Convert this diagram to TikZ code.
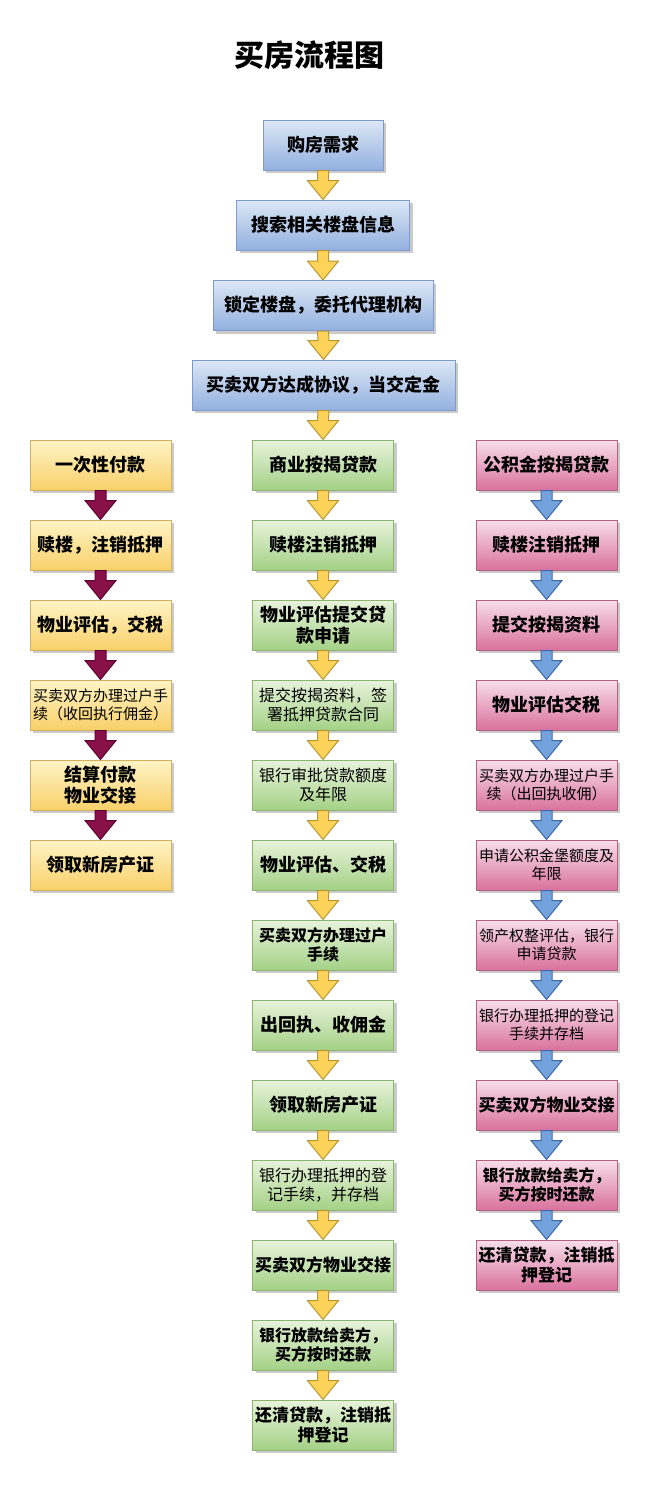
\documentclass[tikz,border=0pt]{standalone}
\usepackage{fontspec}
\setmainfont{Noto Sans CJK SC}
\usetikzlibrary{calc,shadows}
\definecolor{bTop}{HTML}{DDE7F6}
\definecolor{bBot}{HTML}{92B0DF}
\definecolor{bLine}{HTML}{7C9BC8}
\definecolor{yTop}{HTML}{FFF4C6}
\definecolor{yBot}{HTML}{F8D06A}
\definecolor{yLine}{HTML}{D3B05C}
\definecolor{gTop}{HTML}{E8F3DC}
\definecolor{gBot}{HTML}{A4D186}
\definecolor{gLine}{HTML}{8BB56E}
\definecolor{pTop}{HTML}{F8DEE9}
\definecolor{pBot}{HTML}{D9729E}
\definecolor{pLine}{HTML}{B4607F}
\definecolor{yaFill}{HTML}{FFD35A}
\definecolor{yaLine}{HTML}{B8962E}
\definecolor{baFill}{HTML}{74A2DC}
\definecolor{baLine}{HTML}{3F69A6}
\definecolor{maFill}{HTML}{8A1049}
\definecolor{maLine}{HTML}{5C0630}
\tikzset{
  box/.style={draw, line width=0.5pt, inner sep=0pt, minimum height=25pt, minimum width=70.5pt, align=center,
    font=\bfseries\fontsize{9}{10.5}\selectfont,
    drop shadow={shadow xshift=1.6pt, shadow yshift=-1.6pt, opacity=0.35, fill=black!60}},
  bluebox/.style={box, top color=bTop, bottom color=bBot, draw=bLine},
  yelbox/.style={box, top color=yTop, bottom color=yBot, draw=yLine},
  grnbox/.style={box, top color=gTop, bottom color=gBot, draw=gLine},
  pnkbox/.style={box, top color=pTop, bottom color=pBot, draw=pLine},
  sm/.style={font=\fontsize{7.5}{9}\selectfont},
  md/.style={font=\fontsize{8}{9.6}\selectfont},
  mdb/.style={font=\bfseries\fontsize{8}{9.6}\selectfont},
  lgb/.style={font=\bfseries\fontsize{8.5}{10}\selectfont},
  yarrow/.style={fill=yaFill, draw=yaLine, line width=0.5pt, line join=miter},
  barrow/.style={fill=baFill, draw=baLine, line width=0.5pt, line join=miter},
  marrow/.style={fill=maFill, draw=maLine, line width=0.5pt, line join=miter},
}
\newcommand\flowarr[3]{\draw[#3] ($(#1.south)+(-5.5,0)$) -- ($(#2.north)+(-5.5,-19)$) -- ($(#2.north)+(-15.5,-19)$) -- (#2.north) -- ($(#2.north)+(15.5,-19)$) -- ($(#2.north)+(5.5,-19)$) -- ($(#1.south)+(5.5,0)$) -- cycle;}
\begin{document}
\begin{tikzpicture}[x=0.5pt,y=-0.5pt]
\useasboundingbox (0,0) rectangle (650,1485);
\node[font=\bfseries\fontsize{15}{18}\selectfont] (title) at (309,55) {买房流程图};
% top
\node[bluebox, minimum width=60pt] (t1) at (323,145) {购房需求};
\node[bluebox, minimum width=86.5pt] (t2) at (323,225) {搜索相关楼盘信息};
\node[bluebox, minimum width=110pt] (t3) at (323,305.5) {锁定楼盘，委托代理机构};
\node[bluebox, minimum width=131.5pt] (t4) at (323.5,385) {买卖双方达成协议，当交定金};
% left
\node[yelbox] (l1) at (100.5,465) {一次性付款};
\node[yelbox] (l2) at (100.5,545) {赎楼，注销抵押};
\node[yelbox] (l3) at (100.5,625) {物业评估，交税};
\node[yelbox, sm] (l4) at (100.5,705) {买卖双方办理过户手\\续（收回执行佣金）};
\node[yelbox] (l5) at (100.5,785) {结算付款\\物业交接};
\node[yelbox] (l6) at (100.5,865) {领取新房产证};
% middle
\node[grnbox] (m1) at (323,465) {商业按揭贷款};
\node[grnbox] (m2) at (323,545) {赎楼注销抵押};
\node[grnbox] (m3) at (323,625) {物业评估提交贷\\款申请};
\node[grnbox, md] (m4) at (323,705) {提交按揭资料，签\\署抵押贷款合同};
\node[grnbox, md] (m5) at (323,785) {银行审批贷款额度\\及年限};
\node[grnbox] (m6) at (323,865) {物业评估、交税};
\node[grnbox, mdb] (m7) at (323,945) {买卖双方办理过户\\手续};
\node[grnbox] (m8) at (323,1025) {出回执、收佣金};
\node[grnbox] (m9) at (323,1105) {领取新房产证};
\node[grnbox, md] (m10) at (323,1185) {银行办理抵押的登\\记手续，并存档};
\node[grnbox, lgb] (m11) at (323,1265) {买卖双方物业交接};
\node[grnbox, mdb] (m12) at (323,1345) {银行放款给卖方，\\买方按时还款};
\node[grnbox, lgb] (m13) at (323,1425) {还清贷款，注销抵\\押登记};
% right
\node[pnkbox] (r1) at (546.5,465) {公积金按揭贷款};
\node[pnkbox] (r2) at (546.5,545) {赎楼注销抵押};
\node[pnkbox] (r3) at (546.5,625) {提交按揭资料};
\node[pnkbox] (r4) at (546.5,705) {物业评估交税};
\node[pnkbox, sm] (r5) at (546.5,785) {买卖双方办理过户手\\续（出回执收佣）};
\node[pnkbox, sm] (r6) at (546.5,865) {申请公积金堡额度及\\年限};
\node[pnkbox, sm] (r7) at (546.5,945) {领产权整评估，银行\\申请贷款};
\node[pnkbox, sm] (r8) at (546.5,1025) {银行办理抵押的登记\\手续并存档};
\node[pnkbox, lgb] (r9) at (546.5,1105) {买卖双方物业交接};
\node[pnkbox, mdb] (r10) at (546.5,1185) {银行放款给卖方，\\买方按时还款};
\node[pnkbox, lgb] (r11) at (546.5,1265) {还清贷款，注销抵\\押登记};
% arrows
\flowarr{t1}{t2}{yarrow}
\flowarr{t2}{t3}{yarrow}
\flowarr{t3}{t4}{yarrow}
\flowarr{t4}{m1}{yarrow}
\foreach \a/\b in {m1/m2,m2/m3,m3/m4,m4/m5,m5/m6,m6/m7,m7/m8,m8/m9,m9/m10,m10/m11,m11/m12,m12/m13}{\flowarr{\a}{\b}{yarrow}}
\foreach \a/\b in {l1/l2,l2/l3,l3/l4,l4/l5,l5/l6}{\flowarr{\a}{\b}{marrow}}
\foreach \a/\b in {r1/r2,r2/r3,r3/r4,r4/r5,r5/r6,r6/r7,r7/r8,r8/r9,r9/r10,r10/r11}{\flowarr{\a}{\b}{barrow}}
\end{tikzpicture}
\end{document}
